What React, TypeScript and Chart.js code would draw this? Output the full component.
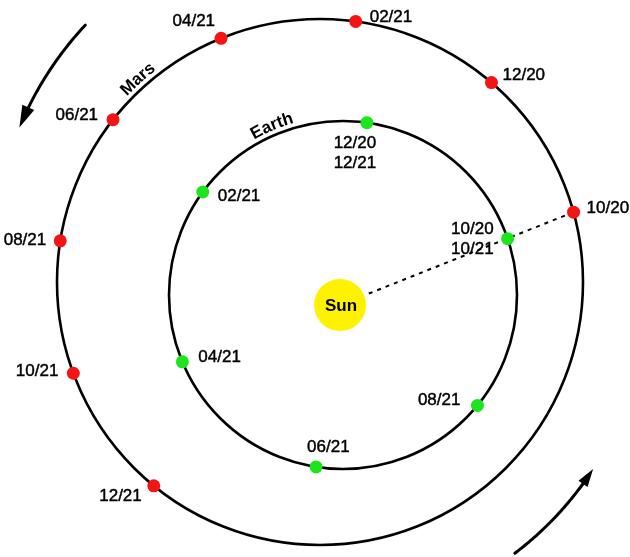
import { useEffect, useRef } from 'react';
import { Chart, registerables } from 'chart.js';

Chart.register(...registerables);

// ---------- data ----------
const marsDates = ['10/20', '12/20', '02/21', '04/21', '06/21', '08/21', '10/21', '12/21'];
const marsAngles = [15.4, 49.3, 82.2, 112.1, 141.9, 171.0, 200.3, 230.8]; // degrees along Mars orbit
const earthDates = ['10/20\n10/21', '12/20\n12/21', '02/21', '04/21', '06/21', '08/21'];
const earthAngles = [18.9, 82.1, 143.7, 202.6, 261.1, 320.6]; // degrees along Earth orbit
const marsOrbit = { cx: -20, cy: 23, r: 263 };
const earthOrbit = { cx: 3, cy: 10, r: 174 };
const sunRadius = 26;
const planetNames = ['Mars', 'Earth'];
const planetNameAngles = [131.9, 112.8];
const sunLabel = 'Sun';
const xRange = [-340, 290];
const yRange = [-252, 305];

// ---------- style ----------
const marsLabelStyle: [number, number, string][] = [
  [13, -4, 'left'], [11, -7, 'left'], [14, -4, 'left'], [-6, -17, 'right'],
  [-15, -4, 'right'], [-14, -1, 'right'], [-15, -2, 'right'], [-12, 11, 'right'],
];
const earthLabelStyle: [number, number, string][] = [
  [-14, -9, 'right'], [-12, 21, 'center'], [15, 4, 'left'],
  [16, -5, 'left'], [-9, -20, 'left'], [-17, -5, 'right'],
];
const arrowDecor = [
  { r1: 348, r2: 338, from: 132.4, to: 152.8, head: 22, width: 13 },
  { r1: 334, r2: 331, from: -54.3, to: -34.4, head: 18, width: 11 },
];
const FONT = '"Liberation Sans", Arial, sans-serif';

const rad = (d: number) => (d * Math.PI) / 180;
const onOrbit = (o: { cx: number; cy: number; r: number }, deg: number) => ({
  x: o.cx + o.r * Math.cos(rad(deg)),
  y: o.cy + o.r * Math.sin(rad(deg)),
});

export default function App() {
  const ref = useRef<HTMLCanvasElement | null>(null);

  useEffect(() => {
    if (!ref.current) return;
    const marsPts = marsAngles.map((a) => onOrbit(marsOrbit, a));
    const earthPts = earthAngles.map((a) => onOrbit(earthOrbit, a));
    const dirDeg = (Math.atan2(marsPts[0].y, marsPts[0].x) * 180) / Math.PI;
    const lineStart = { x: (sunRadius + 5) * Math.cos(rad(dirDeg)), y: (sunRadius + 5) * Math.sin(rad(dirDeg)) };

    const decor = {
      id: 'decor',
      beforeDatasetsDraw(chart: any) {
        const { ctx, scales } = chart;
        const sx = scales.x, sy = scales.y;
        const px = (v: number) => sx.getPixelForValue(v);
        const py = (v: number) => sy.getPixelForValue(v);
        const unit = Math.abs(px(1) - px(0));
        ctx.save();
        ctx.strokeStyle = '#000';
        ctx.lineWidth = 2.6;
        [marsOrbit, earthOrbit].forEach((o) => {
          ctx.beginPath();
          ctx.arc(px(o.cx), py(o.cy), o.r * unit, 0, Math.PI * 2);
          ctx.stroke();
        });
        // arrows (around Mars orbit centre)
        const cxp = px(marsOrbit.cx), cyp = py(marsOrbit.cy);
        arrowDecor.forEach((a) => {
          const pt = (deg: number) => {
            const t = (deg - a.from) / (a.to - a.from);
            const r = (a.r1 + (a.r2 - a.r1) * t) * unit;
            return [cxp + r * Math.cos(rad(deg)), cyp - r * Math.sin(rad(deg))];
          };
          const tip = pt(a.to);
          const backDeg = a.to - ((a.head * 0.8) / ((a.r2 * unit))) * (180 / Math.PI);
          const back = pt(backDeg);
          let dx = tip[0] - back[0], dy = tip[1] - back[1];
          const len = Math.hypot(dx, dy);
          dx /= len; dy /= len;
          const base = [tip[0] - dx * a.head, tip[1] - dy * a.head];
          ctx.beginPath();
          ctx.lineWidth = 3;
          ctx.lineCap = 'round';
          const steps = 40;
          const endDeg = a.to - ((a.head - 2) / (a.r2 * unit)) * (180 / Math.PI);
          for (let i = 0; i <= steps; i++) {
            const d = a.from + ((endDeg - a.from) * i) / steps;
            const p = pt(d);
            if (i === 0) ctx.moveTo(p[0], p[1]);
            else ctx.lineTo(p[0], p[1]);
          }
          ctx.stroke();
          ctx.beginPath();
          ctx.fillStyle = '#000';
          ctx.moveTo(tip[0], tip[1]);
          ctx.lineTo(base[0] - dy * a.width / 2, base[1] + dx * a.width / 2);
          ctx.lineTo(base[0] + dy * a.width / 2, base[1] - dx * a.width / 2);
          ctx.closePath();
          ctx.fill();
        });
        ctx.restore();
      },
      afterDatasetsDraw(chart: any) {
        const { ctx, scales } = chart;
        const sx = scales.x, sy = scales.y;
        const px = (v: number) => sx.getPixelForValue(v);
        const py = (v: number) => sy.getPixelForValue(v);
        const unit = Math.abs(px(1) - px(0));
        ctx.save();
        ctx.fillStyle = '#000';
        ctx.strokeStyle = '#000';
        ctx.lineWidth = 0.45;
        ctx.textBaseline = 'middle';
        ctx.font = `17px ${FONT}`;
        const drawLabels = (pts: { x: number; y: number }[], labels: string[], style: [number, number, string][]) => {
          pts.forEach((p, i) => {
            const [dx, dy, align] = style[i];
            ctx.textAlign = align;
            labels[i].split('\n').forEach((line, j) => {
              const X = px(p.x) + dx, Y = py(p.y) + dy + j * 20;
              ctx.fillText(line, X, Y);
              ctx.strokeText(line, X, Y);
            });
          });
        };
        drawLabels(marsPts, marsDates, marsLabelStyle);
        drawLabels(earthPts, earthDates, earthLabelStyle);

        // Sun label
        ctx.font = `bold 17px ${FONT}`;
        ctx.textAlign = 'center';
        ctx.fillText(sunLabel, px(0) + 1, py(0) + 1);

        // planet names along orbits
        const orbits = [marsOrbit, earthOrbit];
        planetNames.forEach((name, k) => {
          const o = orbits[k];
          const cx = px(o.cx), cy = py(o.cy);
          const r = o.r * unit + 5;
          ctx.font = `bold 17px ${FONT}`;
          const total = ctx.measureText(name).width;
          let ang = rad(planetNameAngles[k]) + total / 2 / r;
          ctx.textAlign = 'left';
          ctx.textBaseline = 'alphabetic';
          for (const ch of name) {
            const w = ctx.measureText(ch).width;
            const mid = ang - w / 2 / r;
            ctx.save();
            ctx.translate(cx + r * Math.cos(mid), cy - r * Math.sin(mid));
            ctx.rotate(Math.PI / 2 - mid);
            ctx.fillText(ch, -w / 2, 0);
            ctx.restore();
            ang -= w / r;
          }
        });
        ctx.restore();
      },
    };

    const chart = new Chart(ref.current, {
      type: 'scatter',
      data: {
        datasets: [
          {
            label: 'Mars',
            data: marsPts,
            backgroundColor: '#f51414',
            borderWidth: 0,
            pointRadius: 6.5,
            order: 0,
          },
          {
            label: 'Earth',
            data: earthPts,
            backgroundColor: '#1de51d',
            borderWidth: 0,
            pointRadius: 6.5,
            order: 0,
          },
          {
            label: 'Sun',
            data: [{ x: 0, y: 0 }],
            backgroundColor: '#fff200',
            borderWidth: 0,
            pointRadius: sunRadius,
            order: 1,
          },
          {
            label: 'line',
            data: [lineStart, marsPts[0]],
            showLine: true,
            borderColor: '#000',
            borderWidth: 2,
            borderDash: [4, 5],
            pointRadius: 0,
            order: 2,
          },
        ],
      } as any,
      options: {
        animation: false,
        responsive: false,
        maintainAspectRatio: false,
        events: [],
        layout: { padding: 0, autoPadding: false },
        plugins: { legend: { display: false }, tooltip: { enabled: false } },
        scales: {
          x: { type: 'linear', min: xRange[0], max: xRange[1], display: false },
          y: { type: 'linear', min: yRange[0], max: yRange[1], display: false },
        },
      } as any,
      plugins: [decor],
    });
    return () => chart.destroy();
  }, []);

  return (
    <div style={{ position: 'fixed', left: 0, top: 0, width: 630, height: 557, background: '#fff' }}>
      <canvas ref={ref} width={630} height={557} style={{ display: 'block', width: 630, height: 557 }} />
    </div>
  );
}
